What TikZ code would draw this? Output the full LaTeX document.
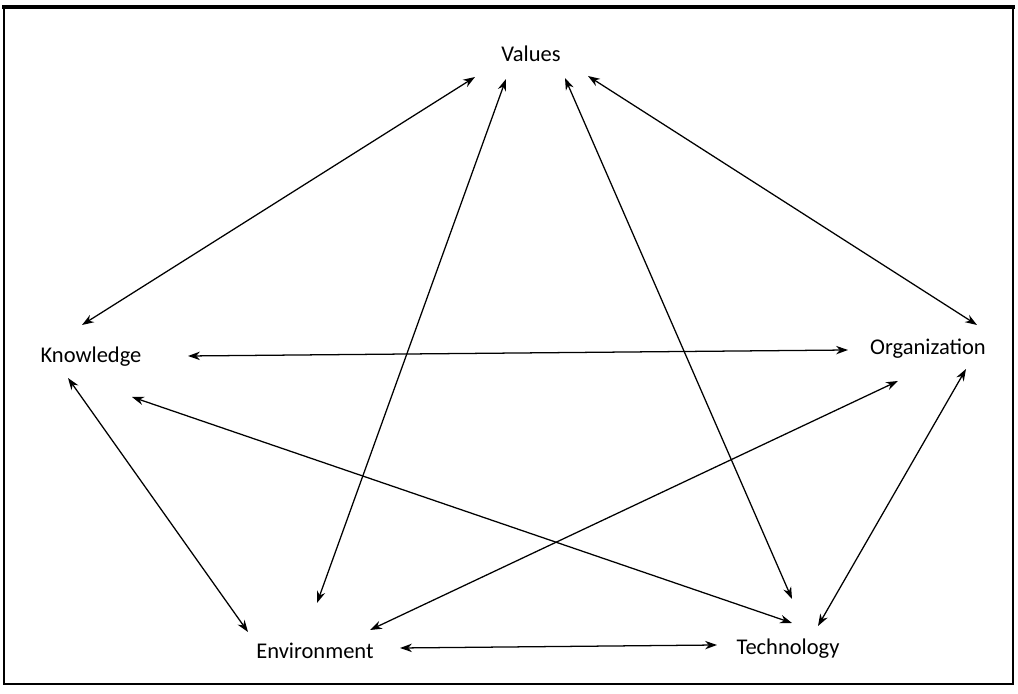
\documentclass[tikz,border=0pt]{standalone}
\usepackage{fontspec}
\setmainfont{Carlito}
\usetikzlibrary{arrows.meta}

\begin{document}
\begin{tikzpicture}[
          link/.style={line width=0.9pt,
            {Stealth[length=8.5pt,width=6pt]}-{Stealth[length=8.5pt,width=6pt]}},
          factor/.style={font=\fontsize{16}{19}\selectfont, inner sep=0pt},
        ]
          \useasboundingbox (0,0) rectangle (25.45,17.35);
          \draw[line width=1.8pt] (0.1,0.25) rectangle (25.325,17.175);
          \draw[line width=3pt] (0.05,17.175) -- (25.37,17.175);
          \node[factor] (val)  at (13.275, 16.0)  {Values};
          \node[factor] (know) at ( 2.275, 8.425) {Knowledge};
          \node[factor] (org)  at (23.2,   8.625) {Organization};
          \node[factor] (env)  at ( 7.875, 1.075) {Environment};
          \node[factor] (tech) at (19.7,   1.125) {Technology};
          % from Values
          \draw[link] ([shift={(-1.4,-0.575)}]val.center)  -- ([shift={(-0.225,0.8)}]know.center);
          \draw[link] ([shift={(-0.625,-0.625)}]val.center) -- ([shift={(0.05,1.2)}]env.center);
          \draw[link] ([shift={(0.85,-0.6)}]val.center)    -- ([shift={(0.1,1.25)}]tech.center);
          \draw[link] ([shift={(1.425,-0.55)}]val.center)  -- ([shift={(1.225,0.6)}]org.center);
          % from Knowledge
          \draw[link] ([shift={(2.425,0.025)}]know.center) -- ([shift={(-2.0,-0.025)}]org.center);
          \draw[link] ([shift={(1.025,-1.0)}]know.center)  -- ([shift={(0.1,0.65)}]tech.center);
          \draw[link] ([shift={(-0.575,-0.525)}]know.center) -- ([shift={(-1.675,0.475)}]env.center);
          % the bottom ones
          \draw[link] ([shift={(1.375,0.525)}]env.center) -- ([shift={(-0.75,-0.8)}]org.center);
          \draw[link] ([shift={(0.75,0.575)}]tech.center) -- ([shift={(0.95,-0.5)}]org.center);
          \draw[link] ([shift={(2.125,0.075)}]env.center) -- ([shift={(-1.775,0.1)}]tech.center);
        \end{tikzpicture}
\end{document}
